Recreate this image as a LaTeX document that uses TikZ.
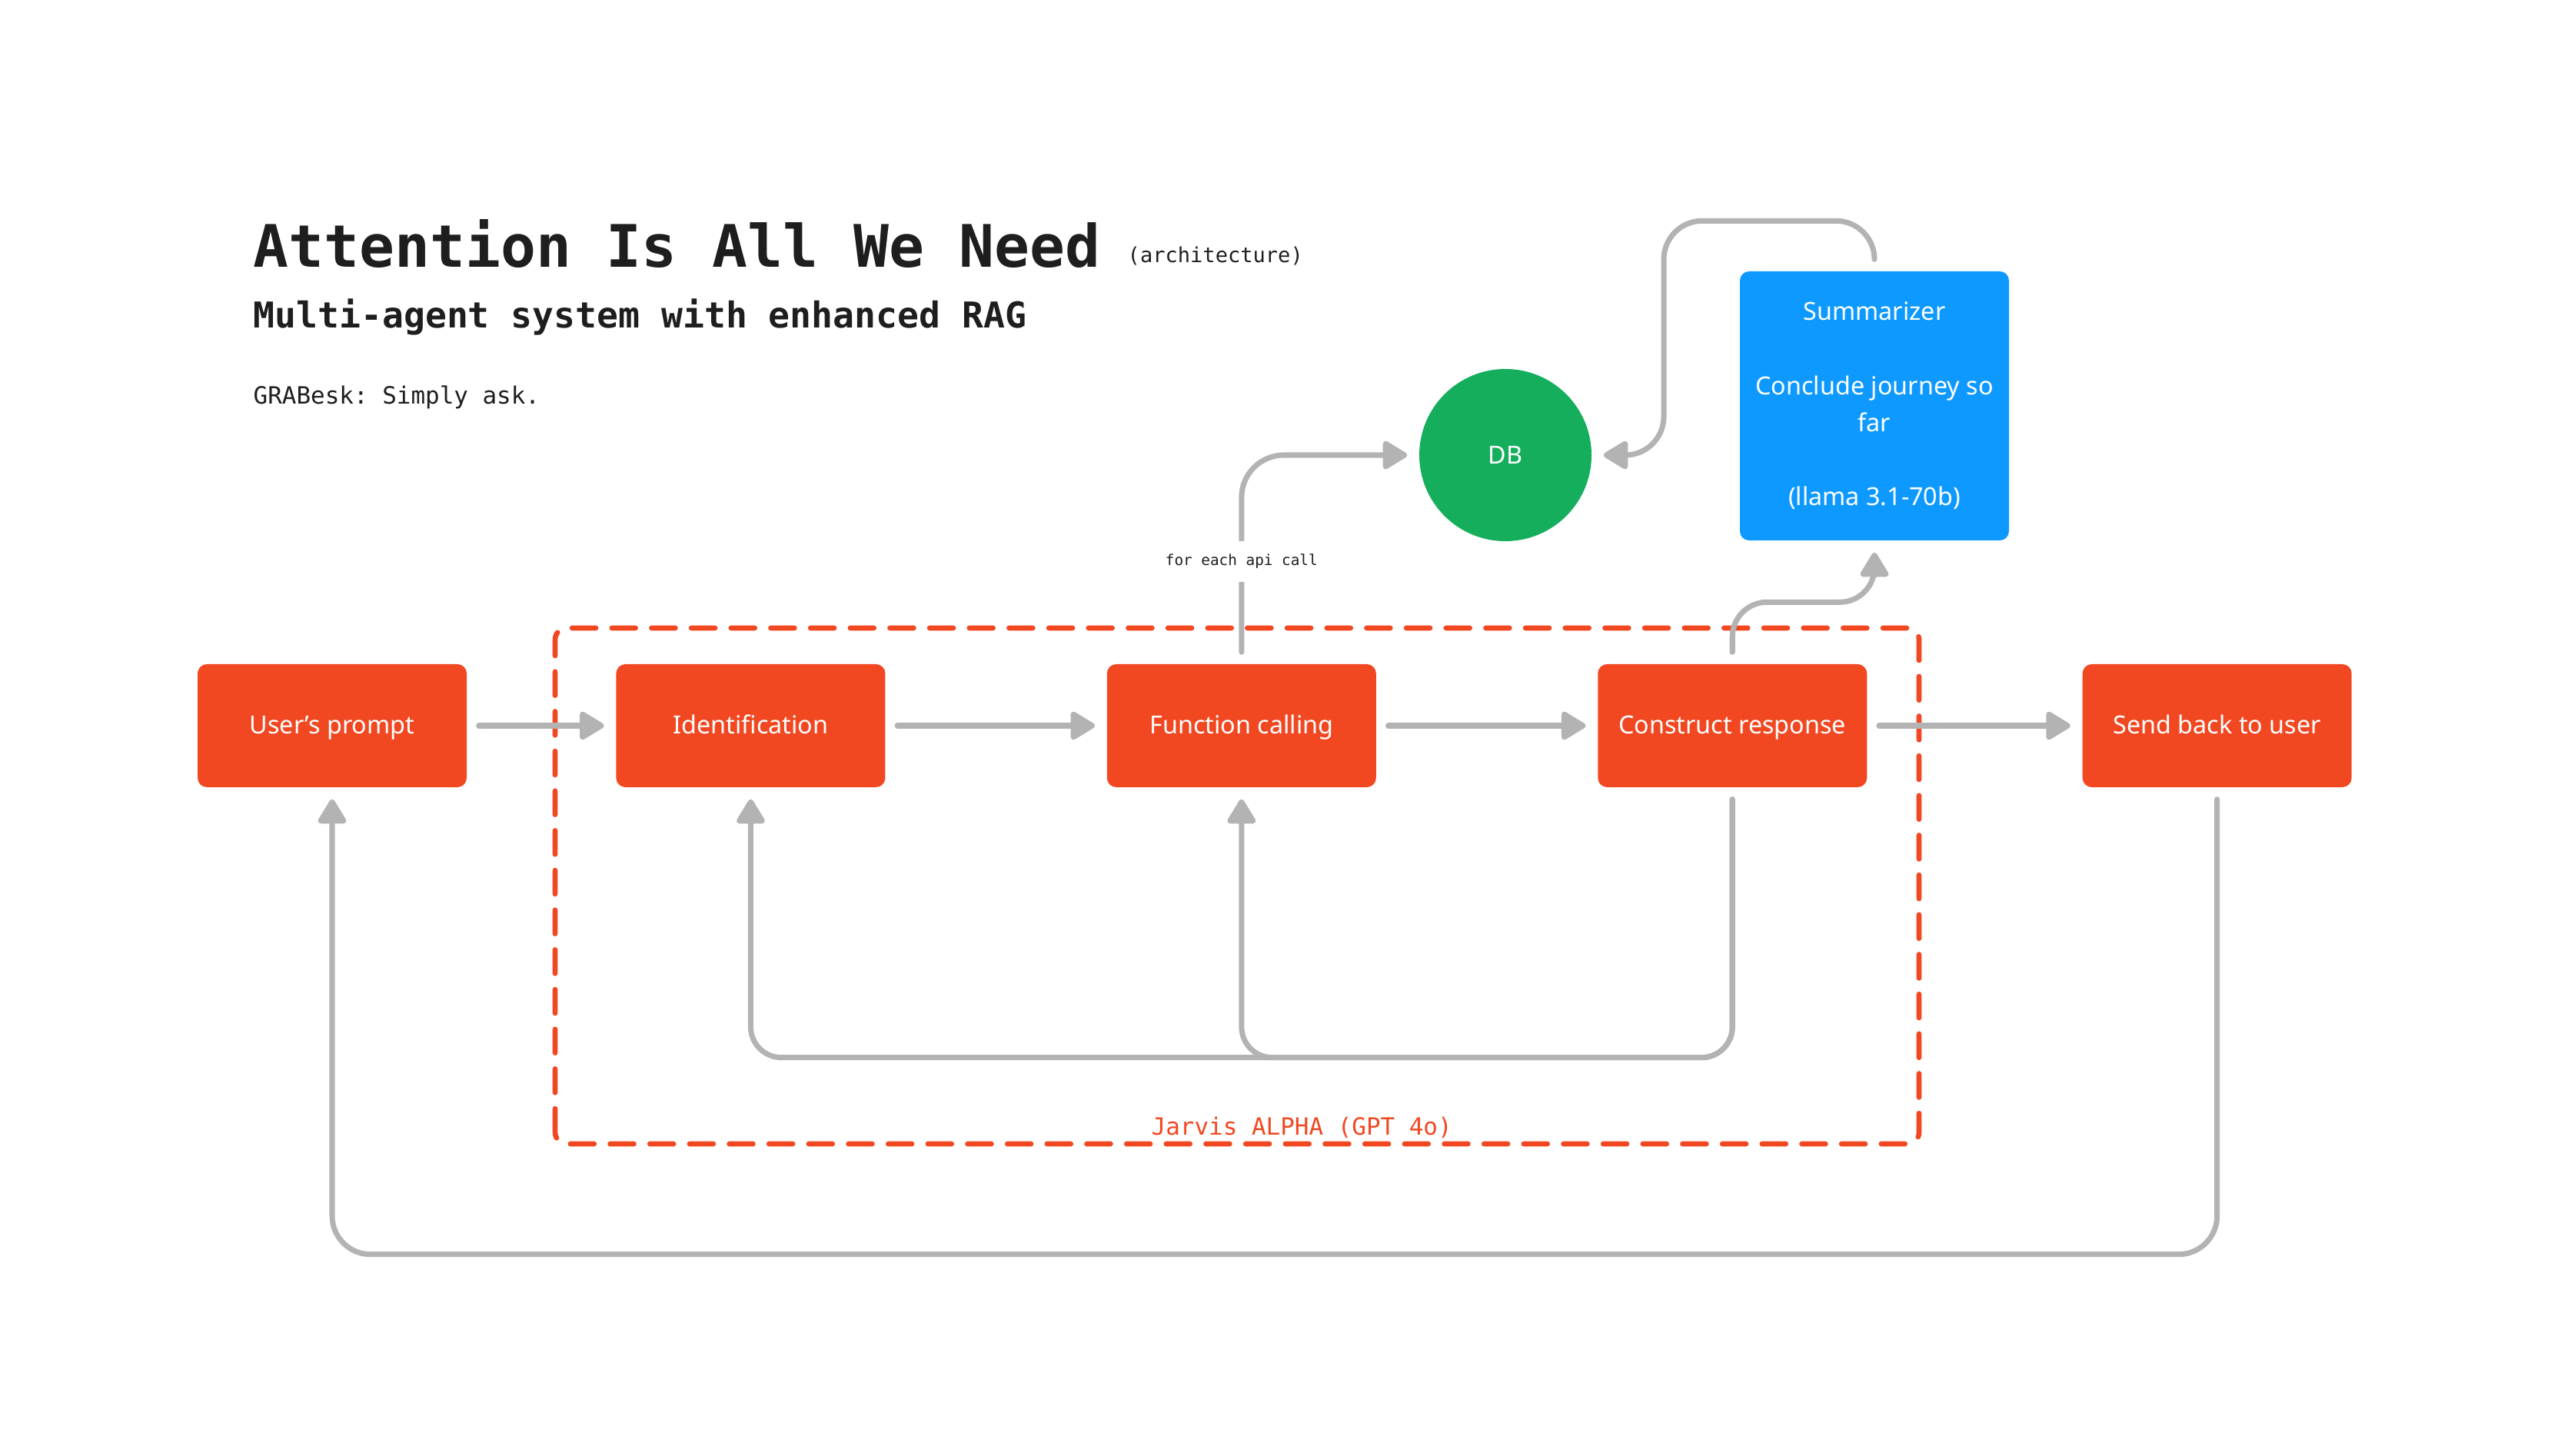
\documentclass[tikz,border=0pt]{standalone}
\usepackage{fontspec}
\setmainfont{Noto Sans}
\setmonofont{DejaVu Sans Mono}
\usepackage{xcolor}
\usetikzlibrary{arrows.meta,positioning}

\definecolor{figorange}{HTML}{F24822}
\definecolor{figblue}{HTML}{0D99FF}
\definecolor{figgreen}{HTML}{14AE5C}
\definecolor{figgray}{HTML}{B3B3B3}
\definecolor{figink}{HTML}{1E1E1E}

\begin{document}
\begin{tikzpicture}[node distance=1.1cm, auto,
    agent/.style={rectangle, fill=figorange, text=white, rounded corners=0.12cm, minimum width=3.5cm, minimum height=1.6cm, inner sep=0pt, text height=1.55ex, text depth=0.45ex, font=\fontsize{9.2pt}{13.7pt}\selectfont},
    summary/.style={rectangle, fill=figblue, text=white, rounded corners=0.12cm, minimum width=3.5cm, minimum height=3.5cm, inner sep=0pt, align=center, font=\fontsize{9.2pt}{13.7pt}\selectfont},
    store/.style={circle, fill=figgreen, text=white, minimum size=2.24cm, inner sep=0pt, font=\fontsize{9.2pt}{13.7pt}\selectfont},
    link/.style={draw=figgray, line width=2pt, line cap=round, -{Triangle[length=10pt,width=11.5pt,round]}, shorten >=0.15cm, shorten <=0.15cm},
    caption/.style={anchor=base west, inner sep=0pt, text=figink}]

    \useasboundingbox (0,0) rectangle (33.18,18.93);

    % headings
    \node [caption, font=\fontsize{21.7pt}{26pt}\selectfont\ttfamily\bfseries] (title) at (3.29,15.45) {Attention Is All We Need};
    \node [caption, font=\fontsize{7.7pt}{9pt}\selectfont\ttfamily] (arch) at (14.66,15.51) {(architecture)};
    \node [caption, font=\fontsize{13.2pt}{16pt}\selectfont\ttfamily\bfseries] (subtitle) at (3.29,14.66) {Multi-agent system with enhanced RAG};
    \node [caption, font=\fontsize{8.8pt}{11pt}\selectfont\ttfamily] (motto) at (3.29,13.67) {GRABesk: Simply ask.};

    % Jarvis frame
    \draw [figorange, line width=1.9pt, line cap=round, dash pattern=on 8.8pt off 5.9pt, rounded corners=0.15cm] (7.22,4.05) rectangle (24.96,10.76);
    \node [caption, text=figorange, font=\fontsize{8.8pt}{11pt}\selectfont\ttfamily] (jarvis) at (14.97,4.17) {Jarvis ALPHA (GPT 4o)};

    % main row
    \node [agent] (user) at (4.32,9.49) {User’s prompt};
    \node [agent, right=1.93cm of user] (ident) {Identification};
    \node [agent, right=2.87cm of ident] (fcall) {Function calling};
    \node [agent, right=2.87cm of fcall] (construct) {Construct response};
    \node [agent, right=2.79cm of construct] (sendback) {Send back to user};

    \node [store] (db) at (19.58,13.01) {DB};
    \node [summary, yshift=-0.05cm] (summ) at (24.38,13.70) {Summarizer\\[13.7pt]Conclude journey so\\far\\[13.7pt](llama 3.1-70b)};

    \path [link] (user) -- (ident);
    \path [link] (ident) -- (fcall);
    \path [link] (fcall) -- (construct);
    \path [link] (construct) -- (sendback);

    % loops back
    \path [link, rounded corners=0.4cm] (construct.south) -- ++(0,-3.51) -| (ident.south);
    \path [link, rounded corners=0.4cm] (construct.south) -- ++(0,-3.51) -| (fcall.south);
    \path [link, rounded corners=0.5cm] (sendback.south) -- ++(0,-6.07) -| (user.south);

    % db and summarizer
    \path [link, rounded corners=0.55cm] (fcall.north) |- node [pos=0.245, anchor=center, fill=white, inner xsep=2pt, inner ysep=0.17cm, text=figink, font=\fontsize{5.5pt}{7pt}\selectfont\ttfamily] {for each api call} (db);
    \path [link, rounded corners=0.45cm] (construct.north) -- ++(0,0.8) -| (summ.south);
    \path [link, rounded corners=0.5cm] (summ.north) |- ++(-2.74,0.65) |- (db);
\end{tikzpicture}
\end{document}
